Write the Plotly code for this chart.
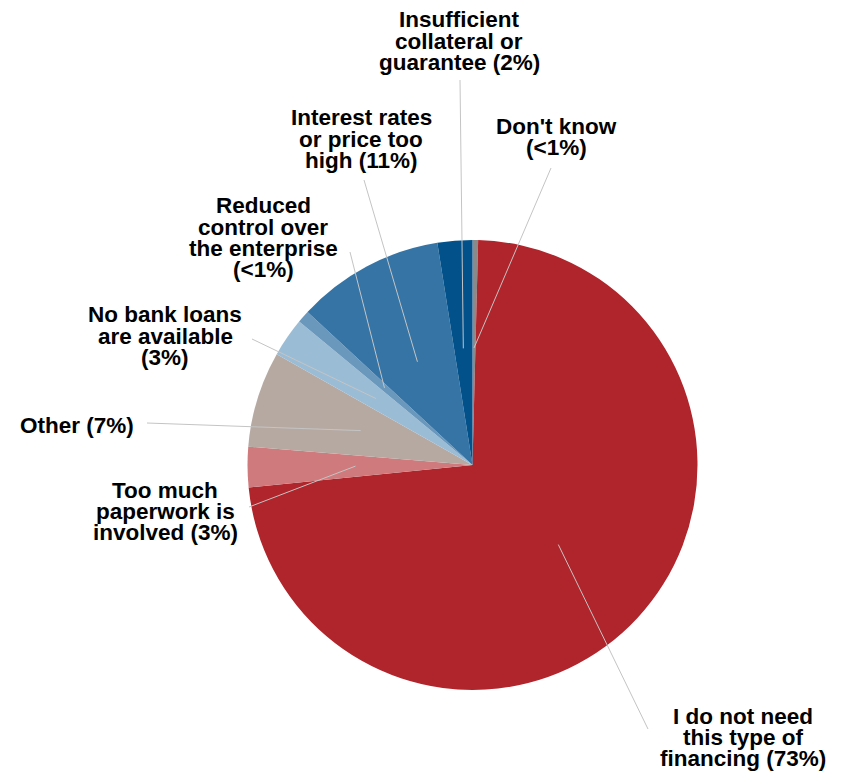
import math
import plotly.graph_objects as go

# ---- data ----
categories = [
    "Don't know",
    "I do not need this type of financing",
    "Too much paperwork is involved",
    "Other",
    "No bank loans are available",
    "Reduced control over the enterprise",
    "Interest rates or price too high",
    "Insufficient collateral or guarantee",
]
values = [0.4, 73.0, 2.9, 6.9, 2.8, 0.9, 10.6, 2.5]
label_lines = [
    ["Don't know", "(<1%)"],
    ["I do not need", "this type of", "financing (73%)"],
    ["Too much", "paperwork is", "involved (3%)"],
    ["Other (7%)"],
    ["No bank loans", "are available", "(3%)"],
    ["Reduced", "control over", "the enterprise", "(<1%)"],
    ["Interest rates", "or price too", "high (11%)"],
    ["Insufficient", "collateral or", "guarantee (2%)"],
]
colors = ["#8a8a8a", "#b0242b", "#cf7a7c", "#b6a9a2", "#9bbcd5", "#6a98bd", "#3574a5", "#02518b"]

# ---- layout constants (pixels in the browser window) ----
W, H = 844, 771
OFF = 8  # page body margin
CX, CY, R = 472.5, 465, 225
# label anchor: (center x, first baseline y), leader outer end (x, y)
label_pos = [
    (556, 133, 551, 168),
    (743, 723, 648, 729),
    (165, 497, 249, 507),
    (77, 432, 147, 423),
    (165, 322, 252, 339),
    (263, 213, 350, 252),
    (361, 125, 364, 180),
    (459, 27, 460, 80),
]
LINE_H = 21.3

def px(x):
    return (x - OFF) / W

def py(y):
    return 1 - (y - OFF) / H

fig = go.Figure(go.Pie(
    labels=categories,
    values=values,
    sort=False,
    direction="clockwise",
    rotation=0,
    marker=dict(colors=colors, line=dict(width=0)),
    textinfo="none",
    hoverinfo="label+percent",
    showlegend=False,
    domain=dict(x=[px(CX - R), px(CX + R)], y=[py(CY + R), py(CY - R)]),
))

total = sum(values)
annotations = []
shapes = []
cum = 0.0
for i, v in enumerate(values):
    mid = (cum + v / 2) / total * 2 * math.pi
    cum += v
    ix = CX + 0.52 * R * math.sin(mid)
    iy = CY - 0.52 * R * math.cos(mid)
    lx, ly, ox, oy = label_pos[i]
    shapes.append(dict(type="line", xref="paper", yref="paper",
                       x0=px(ox), y0=py(oy), x1=px(ix), y1=py(iy),
                       line=dict(color="#c4c4c4", width=1), layer="above"))
    for k, t in enumerate(label_lines[i]):
        annotations.append(dict(
            text="<b>" + t + "</b>", xref="paper", yref="paper",
            x=px(lx), y=py(ly + k * LINE_H - 7),
            xanchor="center", yanchor="middle", showarrow=False,
            font=dict(family="Liberation Sans", size=22.5, color="#000000"),
        ))

fig.update_layout(
    width=W, height=H,
    margin=dict(l=0, r=0, t=0, b=0),
    paper_bgcolor="white",
    plot_bgcolor="white",
    annotations=annotations,
    shapes=shapes,
)

fig.write_html("out.html")
